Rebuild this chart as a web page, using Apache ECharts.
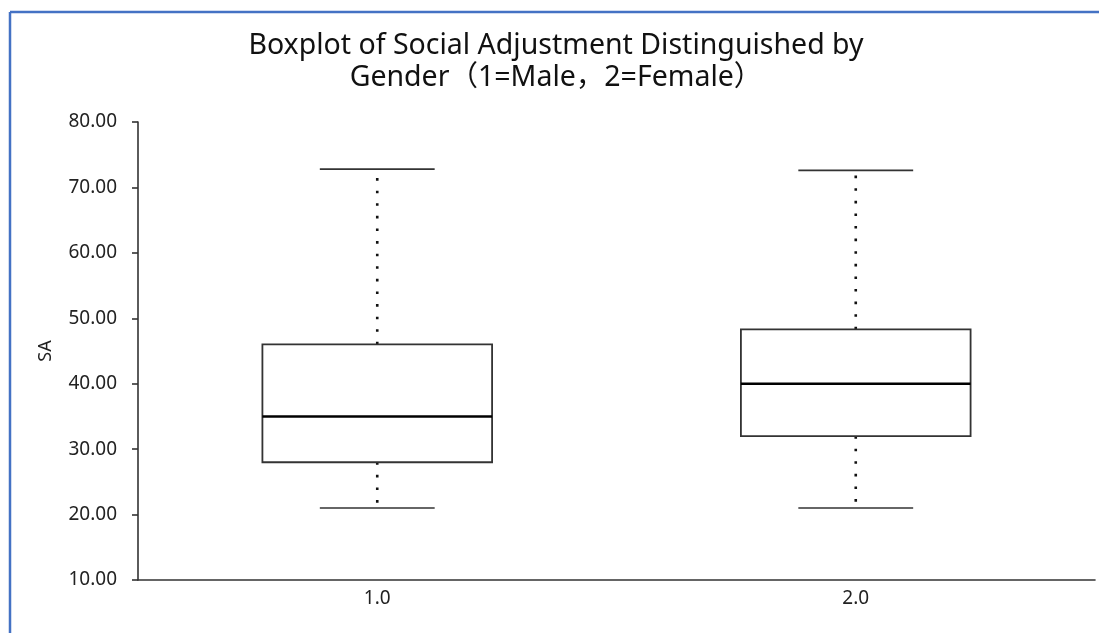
<!DOCTYPE html>
<html>
<head>
<meta charset="utf-8">
<script src="https://cdn.jsdelivr.net/npm/echarts@6/dist/echarts.min.js"></script>
<style>
html,body{margin:0;padding:0;background:#fff;}
#main{width:1099px;height:633px;}
</style>
</head>
<body>
<div id="main"></div>
<script>
// Data
const categories = ['1.0', '2.0'];
const lowerWhisker = [21.0, 21.0];
const q1Values = [28.0, 32.0];
const medianValues = [35.0, 40.0];
const q3Values = [46.0, 48.3];
const upperWhisker = [72.8, 72.6];
const yTicks = { min: 10, max: 80, interval: 10 };

const FONT = '"Noto Sans", "Noto Sans CJK SC", sans-serif';
const chart = echarts.init(document.getElementById('main'));

const seriesData = categories.map((c, i) => [i, lowerWhisker[i], q1Values[i], medianValues[i], q3Values[i], upperWhisker[i]]);

function renderItem(params, api) {
  const idx = api.value(0);
  const band = api.size([1, 0])[0];
  const boxW = band * 0.48;
  const capW = boxW * 0.5;
  const pLow = api.coord([idx, api.value(1)]);
  const pQ1 = api.coord([idx, api.value(2)]);
  const pMed = api.coord([idx, api.value(3)]);
  const pQ3 = api.coord([idx, api.value(4)]);
  const pHigh = api.coord([idx, api.value(5)]);
  const cx = pQ1[0];
  const solid = { stroke: '#333', lineWidth: 1.6, fill: null };
  const dotted = { stroke: '#111', lineWidth: 2.6, lineDash: [2.6, 10], fill: null };
  return {
    type: 'group',
    children: [
      { type: 'line', shape: { x1: cx, y1: pQ3[1], x2: cx, y2: pHigh[1] }, style: dotted },
      { type: 'line', shape: { x1: cx, y1: pQ1[1], x2: cx, y2: pLow[1] }, style: dotted },
      { type: 'rect', shape: { x: cx - boxW / 2, y: pQ3[1], width: boxW, height: pQ1[1] - pQ3[1] }, style: { stroke: '#333', lineWidth: 1.8, fill: '#fff' } },
      { type: 'line', shape: { x1: cx - boxW / 2, y1: pMed[1], x2: cx + boxW / 2, y2: pMed[1] }, style: { stroke: '#000', lineWidth: 2.6 } },
      { type: 'line', shape: { x1: cx - capW / 2, y1: pHigh[1], x2: cx + capW / 2, y2: pHigh[1] }, style: solid },
      { type: 'line', shape: { x1: cx - capW / 2, y1: pLow[1], x2: cx + capW / 2, y2: pLow[1] }, style: solid }
    ]
  };
}

chart.setOption({
  animation: false,
  backgroundColor: '#fff',
  title: {
    text: 'Boxplot of Social Adjustment Distinguished by\nGender（1=Male，2=Female）',
    left: 551,
    textAlign: 'center',
    top: 25,
    textStyle: { fontFamily: FONT, fontSize: 28.5, fontWeight: 'normal', color: '#111', lineHeight: 32 }
  },
  graphic: [
    { type: 'line', shape: { x1: 10, y1: 12, x2: 1099, y2: 12 }, style: { stroke: '#4472C4', lineWidth: 2.5 }, z: 100 },
    { type: 'line', shape: { x1: 10, y1: 12, x2: 10, y2: 633 }, style: { stroke: '#4472C4', lineWidth: 2.5 }, z: 100 }
  ],
  grid: { left: 138, right: 4, top: 122, bottom: 53, containLabel: false },
  xAxis: {
    type: 'category',
    data: categories,
    boundaryGap: true,
    axisLine: { lineStyle: { color: '#333', width: 1.6 } },
    axisTick: { alignWithLabel: true, length: 5, lineStyle: { color: '#333', width: 1.6 } },
    axisLabel: { fontFamily: FONT, fontSize: 19, color: '#222', margin: 9 },
    splitLine: { show: false }
  },
  yAxis: {
    type: 'value',
    min: yTicks.min,
    max: yTicks.max,
    interval: yTicks.interval,
    name: 'SA',
    nameLocation: 'middle',
    nameGap: 83,
    nameRotate: 90,
    nameTextStyle: { fontFamily: FONT, fontSize: 18, color: '#222' },
    axisLine: { show: true, lineStyle: { color: '#333', width: 1.6 } },
    axisTick: { show: true, length: 6, lineStyle: { color: '#333', width: 1.6 } },
    axisLabel: { fontFamily: FONT, fontSize: 19, color: '#222', margin: 21, formatter: v => v.toFixed(2) },
    splitLine: { show: false }
  },
  series: [{
    type: 'custom',
    renderItem: renderItem,
    encode: { x: 0, y: [1, 2, 3, 4, 5] },
    data: seriesData,
    clip: false
  }]
});
</script>
</body>
</html>
